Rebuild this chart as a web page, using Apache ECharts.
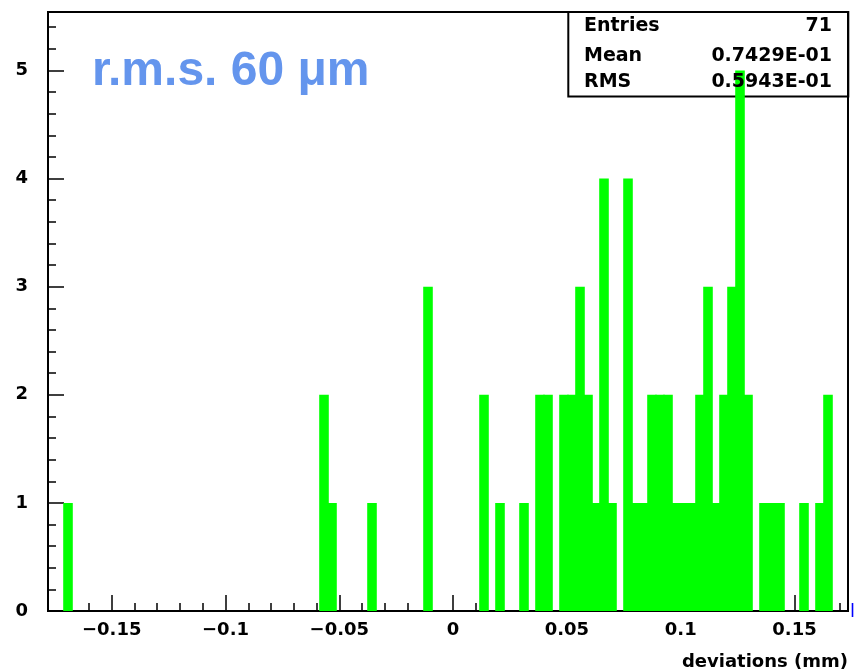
<!DOCTYPE html>
<html>
<head>
<meta charset="utf-8">
<script src="https://cdn.jsdelivr.net/npm/echarts@6/dist/echarts.min.js"></script>
<style>
html,body{margin:0;padding:0;background:#ffffff;}
#chart{width:859px;height:672px;}
</style>
</head>
<body>
<div id="chart"></div>
<script>
// ---- Histogram definition (100 bins, as in the PAW plot) ----
const HIST_MIN = -0.178;
const HIST_MAX = 0.1735;
const N_BINS = 100;

// non-empty bins: bin number (0-based) and entries
const binIndex  = [2, 34, 35, 40, 47, 54, 56, 59, 61, 62, 64, 65, 66, 67, 68, 69, 70,
                   72, 73, 74, 75, 76, 77, 78, 79, 80, 81, 82, 83, 84, 85, 86, 87,
                   89, 90, 91, 94, 96, 97];
const binCounts = [1, 2, 1, 1, 3, 2, 1, 1, 2, 2, 2, 2, 3, 2, 1, 4, 1,
                   4, 1, 1, 2, 2, 2, 1, 1, 1, 2, 3, 1, 2, 3, 5, 2,
                   1, 1, 1, 1, 1, 2];

// axis ticks
const xMajorTicks = [-0.15, -0.1, -0.05, 0, 0.05, 0.1, 0.15];
const xMinorTicks = [-0.17, -0.16, -0.14, -0.13, -0.12, -0.11, -0.09, -0.08, -0.07, -0.06,
                     -0.04, -0.03, -0.02, -0.01, 0.01, 0.02, 0.03, 0.04, 0.06, 0.07,
                     0.08, 0.09, 0.11, 0.12, 0.13, 0.14, 0.16, 0.17];
const yMajorTicks = [0, 1, 2, 3, 4, 5];
const yMinorTicks = [0.2, 0.4, 0.6, 0.8, 1.2, 1.4, 1.6, 1.8, 2.2, 2.4, 2.6, 2.8,
                     3.2, 3.4, 3.6, 3.8, 4.2, 4.4, 4.6, 4.8, 5.2, 5.4];
const Y_MAX = 5.54;

// statistics box
const statNames  = ['Entries', 'Mean', 'RMS'];
const statValues = ['71', '0.7429E-01', '0.5943E-01'];
const annotation = 'r.m.s. 60 \u03bcm';
const xTitle = 'deviations (mm)';

const BIN_W = (HIST_MAX - HIST_MIN) / N_BINS;
const histData = binIndex.map((k, i) => [HIST_MIN + (k + 0.5) * BIN_W, binCounts[i]]);

const LABEL_FONT = 'DejaVu Sans';
const fmtMinus = v => String(v).replace('-', '\u2212');

const chart = echarts.init(document.getElementById('chart'), null, {renderer: 'canvas'});

const statRowY = [25.8, 55.8, 81.7];
const graphics = [
  {
    type: 'rect', z: 1, silent: true,
    shape: {x: 568.3, y: 12, width: 280, height: 84.5},
    style: {fill: null, stroke: '#000', lineWidth: 2}
  },
  {
    type: 'text', z: 10, silent: true,
    style: {text: annotation, x: 92, y: 71.5, fill: '#6495ED',
            font: 'bold 48px "Liberation Sans", Arial, sans-serif',
            align: 'left', verticalAlign: 'middle', textAlign: 'left', textVerticalAlign: 'middle'}
  },
  {
    type: 'text', z: 10, silent: true,
    style: {text: 'l', x: 850, y: 612, fill: '#0000ff',
            font: '18px "DejaVu Sans"',
            align: 'left', verticalAlign: 'middle', textAlign: 'left', textVerticalAlign: 'middle'}
  }
];
statNames.forEach((n, i) => {
  graphics.push({
    type: 'text', z: 10, silent: true,
    style: {text: n, x: 584, y: statRowY[i], fill: '#000',
            font: 'bold 19px "DejaVu Sans"',
            align: 'left', verticalAlign: 'middle', textAlign: 'left', textVerticalAlign: 'middle'}
  });
  graphics.push({
    type: 'text', z: 10, silent: true,
    style: {text: statValues[i], x: 832, y: statRowY[i], fill: '#000',
            font: 'bold 19px "DejaVu Sans"',
            align: 'right', verticalAlign: 'middle', textAlign: 'right', textVerticalAlign: 'middle'}
  });
});

const axisLineStyle = {color: '#000', width: 2};
const labelStyle = {color: '#000', fontFamily: LABEL_FONT, fontWeight: 'bold', fontSize: 18};

const option = {
  animation: false,
  backgroundColor: '#ffffff',
  grid: {left: 48, top: 12, right: 11, bottom: 61, show: true,
         borderColor: '#000', borderWidth: 2, backgroundColor: 'transparent'},
  xAxis: [
    {
      type: 'value', gridIndex: 0, position: 'bottom',
      min: HIST_MIN, max: HIST_MAX,
      axisLine: {show: true, onZero: false, lineStyle: axisLineStyle},
      axisTick: {show: true, inside: true, length: 16, customValues: xMajorTicks,
                 lineStyle: {color: '#000', width: 1.5}},
      axisLabel: {show: true, customValues: xMajorTicks, margin: 10,
                  formatter: fmtMinus, ...labelStyle},
      splitLine: {show: false},
      name: xTitle, nameLocation: 'end', nameGap: 0,
      nameTextStyle: {color: '#000', fontFamily: LABEL_FONT, fontWeight: 'bold', fontSize: 18,
                      align: 'right', verticalAlign: 'top', padding: [42, 0, 0, 0]}
    },
    {
      type: 'value', gridIndex: 0, position: 'bottom',
      min: HIST_MIN, max: HIST_MAX,
      axisLine: {show: false, onZero: false},
      axisTick: {show: true, inside: true, length: 8, customValues: xMinorTicks,
                 lineStyle: {color: '#000', width: 1.5}},
      axisLabel: {show: false},
      splitLine: {show: false}
    }
  ],
  yAxis: [
    {
      type: 'value', gridIndex: 0, position: 'left',
      min: 0, max: Y_MAX,
      axisLine: {show: true, onZero: false, lineStyle: axisLineStyle},
      axisTick: {show: true, inside: true, length: 16, customValues: yMajorTicks,
                 lineStyle: {color: '#000', width: 1.5}},
      axisLabel: {show: true, customValues: yMajorTicks, margin: 20, ...labelStyle},
      splitLine: {show: false}
    },
    {
      type: 'value', gridIndex: 0, position: 'left',
      min: 0, max: Y_MAX,
      axisLine: {show: false, onZero: false},
      axisTick: {show: true, inside: true, length: 8, customValues: yMinorTicks,
                 lineStyle: {color: '#000', width: 1.5}},
      axisLabel: {show: false},
      splitLine: {show: false}
    }
  ],
  series: [{
    type: 'custom',
    name: 'deviations',
    xAxisIndex: 0, yAxisIndex: 0,
    z: 2,
    data: histData,
    encode: {x: 0, y: 1},
    renderItem: function (params, api) {
      const xc = api.value(0), cnt = api.value(1);
      const pTop = api.coord([xc - BIN_W / 2, cnt]);
      const pBot = api.coord([xc + BIN_W / 2, 0]);
      return {
        type: 'rect',
        shape: {x: pTop[0] - 0.8, y: pTop[1], width: pBot[0] - pTop[0] + 1.6, height: pBot[1] - pTop[1]},
        style: {fill: '#00ff00'}
      };
    }
  }],
  graphic: graphics
};
chart.setOption(option);
</script>
</body>
</html>
